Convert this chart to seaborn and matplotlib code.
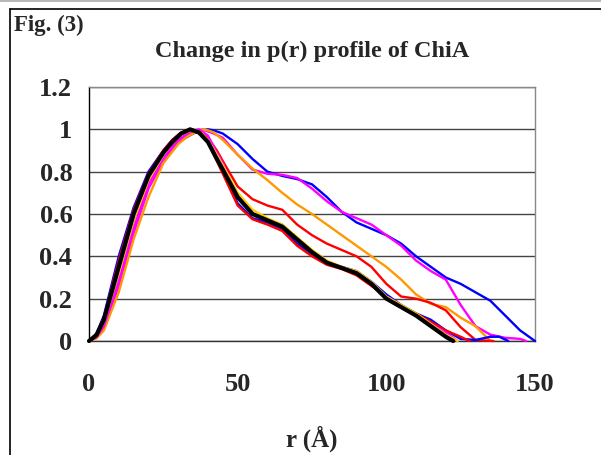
import numpy as np
import pandas as pd
import matplotlib
matplotlib.use('Agg')
import matplotlib.pyplot as plt
from matplotlib.lines import Line2D
import seaborn as sns

# p(r) profiles (r in Angstrom, p normalised to peak = 1)
r_blue_far = [0, 2.5, 5, 10, 15, 20, 25, 30, 35, 38, 40, 42, 45, 50, 55, 60, 65, 70, 75, 80, 85, 90,
              95, 100, 105, 110, 115, 120, 125, 130, 135, 140, 145, 150]
p_blue_far = [0, 0.025, 0.08, 0.32, 0.57, 0.76, 0.87, 0.94, 0.98, 0.995, 1.0, 0.995, 0.98, 0.93, 0.86,
              0.80, 0.78, 0.765, 0.74, 0.68, 0.61, 0.56, 0.53, 0.50, 0.46, 0.40, 0.35, 0.30, 0.27,
              0.23, 0.19, 0.12, 0.05, 0]

r_magenta_far = [0, 2.5, 5, 10, 15, 20, 25, 30, 33, 35, 38, 40, 42, 45, 50, 55, 60, 65, 70, 75, 80,
                 85, 90, 95, 100, 105, 110, 115, 120, 125, 130, 135, 140, 145, 147]
p_magenta_far = [0, 0.015, 0.06, 0.26, 0.51, 0.72, 0.85, 0.94, 0.97, 0.985, 1.0, 0.99, 0.98, 0.96,
                 0.88, 0.81, 0.79, 0.785, 0.77, 0.72, 0.66, 0.61, 0.58, 0.55, 0.50, 0.45, 0.38, 0.33,
                 0.29, 0.17, 0.07, 0.03, 0.015, 0.01, 0]

r_orange_far = [0, 2.5, 5, 10, 15, 20, 25, 30, 33, 35, 38, 40, 42, 45, 50, 55, 60, 65, 70, 75, 80,
                85, 90, 95, 100, 105, 110, 115, 120, 125, 130, 135]
p_orange_far = [0, 0.012, 0.05, 0.23, 0.48, 0.68, 0.84, 0.93, 0.965, 0.98, 1.0, 0.995, 0.985, 0.95,
                0.88, 0.815, 0.76, 0.70, 0.645, 0.60, 0.55, 0.50, 0.45, 0.40, 0.35, 0.29, 0.22,
                0.175, 0.16, 0.11, 0.07, 0]

r_red_mid = [0, 2.5, 5, 10, 15, 20, 25, 28, 31, 34, 37, 40, 43, 45, 50, 55, 60, 65, 70, 75, 80, 85,
             90, 95, 100, 105, 110, 115, 120, 125, 130, 136]
p_red_mid = [0, 0.025, 0.09, 0.33, 0.59, 0.77, 0.89, 0.94, 0.98, 1.0, 0.99, 0.96, 0.90, 0.85, 0.73,
             0.67, 0.64, 0.62, 0.55, 0.50, 0.46, 0.43, 0.40, 0.35, 0.27, 0.21, 0.20, 0.18, 0.145,
             0.065, 0.005, 0]

r_blue_low = [0, 2.5, 5, 10, 15, 20, 25, 28, 31, 34, 37, 40, 43, 45, 50, 55, 60, 65, 70, 75, 80, 85,
              90, 95, 100, 105, 110, 115, 120, 125, 130, 135, 138, 141]
p_blue_low = [0, 0.035, 0.12, 0.40, 0.63, 0.80, 0.90, 0.95, 0.985, 1.0, 0.985, 0.95, 0.86, 0.80, 0.65,
              0.58, 0.56, 0.53, 0.46, 0.41, 0.37, 0.35, 0.33, 0.28, 0.22, 0.17, 0.13, 0.10, 0.05,
              0.01, 0.005, 0.02, 0.02, 0]

r_red_low = [0, 2.5, 5, 10, 15, 20, 25, 28, 31, 34, 37, 40, 43, 45, 50, 55, 60, 65, 70, 75, 80, 85,
             90, 95, 100, 105, 110, 115, 120, 125, 128]
p_red_low = [0, 0.03, 0.11, 0.38, 0.62, 0.79, 0.90, 0.95, 0.985, 1.0, 0.98, 0.94, 0.85, 0.79, 0.64,
             0.575, 0.55, 0.52, 0.45, 0.40, 0.36, 0.34, 0.31, 0.26, 0.21, 0.165, 0.13, 0.09, 0.05,
             0.02, 0]

r_magenta_low = [0, 2.5, 5, 10, 15, 20, 25, 30, 33, 35, 37, 40, 43, 45, 50, 55, 60, 65, 70, 75, 80,
                 85, 90, 95, 100, 105, 110, 115, 120, 124]
p_magenta_low = [0, 0.018, 0.07, 0.28, 0.53, 0.74, 0.87, 0.95, 0.98, 0.995, 1.0, 0.97, 0.89, 0.84,
                 0.68, 0.60, 0.57, 0.55, 0.48, 0.42, 0.375, 0.35, 0.325, 0.275, 0.21, 0.17, 0.12,
                 0.08, 0.04, 0]

r_yellow = [0, 2.5, 5, 10, 15, 20, 25, 28, 31, 35, 38, 40, 43, 45, 50, 55, 60, 65, 70, 75, 80, 85, 90,
            95, 100, 105, 110, 115, 120, 124]
p_yellow = [0, 0.025, 0.09, 0.32, 0.57, 0.76, 0.88, 0.935, 0.975, 1.0, 0.98, 0.95, 0.88, 0.83, 0.70,
            0.62, 0.58, 0.55, 0.49, 0.43, 0.38, 0.35, 0.33, 0.28, 0.21, 0.17, 0.13, 0.08, 0.03, 0]

r_black = [0, 2.5, 5, 10, 15, 20, 25, 28, 31, 34, 37, 40, 43, 45, 50, 55, 60, 65, 70, 75, 80, 85, 90,
           95, 100, 105, 110, 115, 120, 122.5]
p_black = [0, 0.028, 0.10, 0.35, 0.60, 0.78, 0.89, 0.94, 0.98, 1.0, 0.985, 0.94, 0.86, 0.81, 0.68,
           0.60, 0.57, 0.54, 0.48, 0.42, 0.37, 0.345, 0.32, 0.27, 0.20, 0.16, 0.12, 0.07, 0.02, 0]

series = [
    (r_blue_far, p_blue_far, '#0000FF', 1.7),
    (r_magenta_far, p_magenta_far, '#FF00FF', 1.7),
    (r_orange_far, p_orange_far, '#FF9900', 1.7),
    (r_red_mid, p_red_mid, '#FF0000', 1.7),
    (r_blue_low, p_blue_low, '#0000FF', 1.7),
    (r_red_low, p_red_low, '#FF0000', 1.7),
    (r_magenta_low, p_magenta_low, '#FF00FF', 1.7),
    (r_yellow, p_yellow, '#FFCC00', 1.7),
    (r_black, p_black, '#000000', 3.0),
]

x_ticks = [0, 50, 100, 150]
y_ticks = [0, 0.2, 0.4, 0.6, 0.8, 1.0, 1.2]
y_tick_labels = ['0', '0.2', '0.4', '0.6', '0.8', '1', '1.2']

sns.set_style('white')
plt.rcParams['font.family'] = ['Liberation Serif', 'DejaVu Serif']
plt.rcParams['font.weight'] = 'bold'

W, H = 601, 455
fig = plt.figure(figsize=(W / 100, H / 100), dpi=100)
ax = fig.add_axes([89 / W, (H - 341) / H, (535 - 89) / W, (341 - 87) / H])

for r, p, col, lw in series:
    df = pd.DataFrame({'r': r, 'p': p})
    sns.lineplot(data=df, x='r', y='p', color=col, linewidth=lw, sort=False,
                 estimator=None, ax=ax, clip_on=False, zorder=3)

ax.set_xlim(0, 150)
ax.set_ylim(0, 1.2)
ax.set_xticks(x_ticks)
ax.set_xticklabels([str(t) for t in x_ticks], fontsize=19, fontweight='bold')
ax.set_yticks(y_ticks)
ax.set_yticklabels(y_tick_labels, fontsize=19, fontweight='bold')
ax.tick_params(axis='x', direction='in', length=5, width=1, color='black', pad=23)
ax.tick_params(axis='y', length=0, pad=12)

ax.yaxis.grid(True, color='#444444', linewidth=1.0)
ax.xaxis.grid(False)
ax.set_axisbelow(True)

ax.spines['left'].set_color('black')
ax.spines['bottom'].set_color('#333333')
ax.spines['top'].set_color('#888888')
ax.spines['right'].set_color('#888888')
for s in ax.spines.values():
    s.set_linewidth(1.0)

ax.set_xlabel('r (\u00c5)', fontsize=18, fontweight='bold', labelpad=21)
ax.set_ylabel('')

fig.text(312 / W, 1 - 51 / H, 'Change in p(r) profile of ChiA', ha='center', va='center',
         fontsize=17.5, fontweight='bold')
fig.text(14 / W, 1 - 25 / H, 'Fig. (3)', ha='left', va='center', fontsize=16.5, fontweight='bold')

# outer frame like the source document
fig.add_artist(Line2D([0, 1], [1 - 0.5 / H, 1 - 0.5 / H], color='#aaaaaa', lw=1.2,
                      transform=fig.transFigure))
fig.add_artist(Line2D([10 / W, 1], [1 - 9 / H, 1 - 9 / H], color='black', lw=1.2,
                      transform=fig.transFigure))
fig.add_artist(Line2D([10 / W, 10 / W], [0, 1 - 9 / H], color='black', lw=1.2,
                      transform=fig.transFigure))

fig.savefig('out.png', dpi=100)
